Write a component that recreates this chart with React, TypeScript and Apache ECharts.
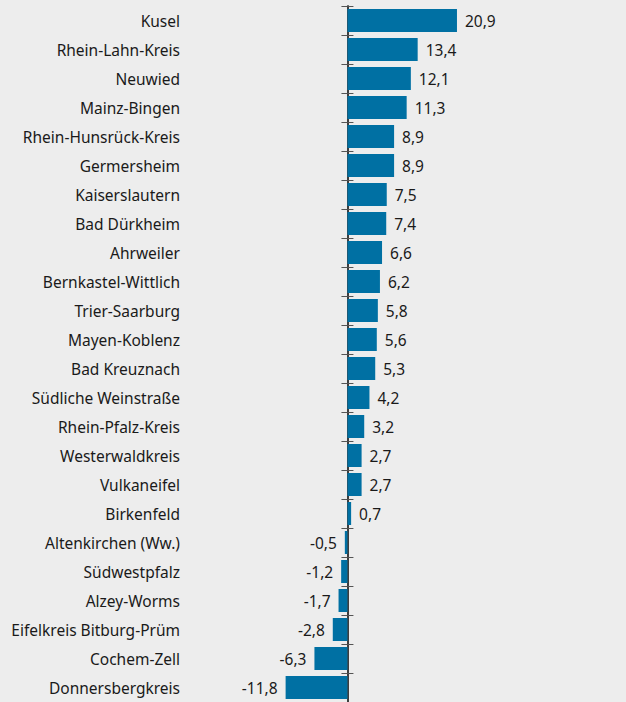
import React, { useEffect, useRef } from "react";
import * as echarts from "echarts";

const categories = [
  "Kusel", "Rhein-Lahn-Kreis", "Neuwied", "Mainz-Bingen", "Rhein-Hunsrück-Kreis",
  "Germersheim", "Kaiserslautern", "Bad Dürkheim", "Ahrweiler", "Bernkastel-Wittlich",
  "Trier-Saarburg", "Mayen-Koblenz", "Bad Kreuznach", "Südliche Weinstraße",
  "Rhein-Pfalz-Kreis", "Westerwaldkreis", "Vulkaneifel", "Birkenfeld",
  "Altenkirchen (Ww.)", "Südwestpfalz", "Alzey-Worms", "Eifelkreis Bitburg-Prüm",
  "Cochem-Zell", "Donnersbergkreis",
];
const values = [
  20.9, 13.4, 12.1, 11.3, 8.9, 8.9, 7.5, 7.4, 6.6, 6.2, 5.8, 5.6, 5.3, 4.2,
  3.2, 2.7, 2.7, 0.7, -0.5, -1.2, -1.7, -2.8, -6.3, -11.8,
];

const FONT = "'Noto Sans', sans-serif";
const TEXT = "#1a1a1a";
const FS = 15.5;

export default function App() {
  const ref = useRef<HTMLDivElement>(null);
  useEffect(() => {
    if (!ref.current) return;
    const chart = echarts.init(ref.current, undefined, { renderer: "svg" });
    const fmt = (v: number) => String(v).replace(".", ",");
    chart.setOption({
      animation: false,
      backgroundColor: "#ededed",
      textStyle: { fontFamily: FONT },
      grid: {
        left: 185,
        top: 6,
        height: 696,
        width: 298.7,
        containLabel: false,
        outerBoundsMode: "none",
      },
      xAxis: {
        type: "value",
        min: -31,
        max: 26,
        show: false,
      },
      yAxis: [
        {
          type: "category",
          data: categories,
          inverse: true,
          position: "left",
          axisLine: { show: true, onZero: true, onZeroAxisIndex: 0, lineStyle: { color: "#333", width: 1.5 } },
          axisTick: { show: true, length: 6, lineStyle: { color: "#555" } },
          axisLabel: {
            margin: 5,
            color: TEXT,
            fontSize: FS,
            fontFamily: FONT,
          },
          splitLine: { show: false },
        },
        {
          type: "category",
          data: categories,
          inverse: true,
          position: "right",
          axisLine: { show: true, onZero: true, onZeroAxisIndex: 0, lineStyle: { color: "#333", width: 1.5 } },
          axisTick: { show: true, length: 6, lineStyle: { color: "#555" } },
          axisLabel: { show: false },
          splitLine: { show: false },
        },
      ],
      series: [
        {
          type: "bar",
          yAxisIndex: 0,
          barWidth: 23,
          data: values.map((v) => ({
            value: v,
            label: {
              show: true,
              position: v >= 0 ? "right" : "left",
              distance: 8,
              formatter: () => fmt(v),
              color: TEXT,
              fontSize: FS,
              fontFamily: FONT,
            },
          })),
          itemStyle: { color: "#0070a3" },
        },
      ],
    });
    return () => chart.dispose();
  }, []);
  return (
    <div
      style={{
        position: "absolute",
        left: 0,
        top: 0,
        width: 626,
        height: 702,
        background: "#ededed",
      }}
    >
      <div ref={ref} style={{ width: 626, height: 702 }} />
    </div>
  );
}
